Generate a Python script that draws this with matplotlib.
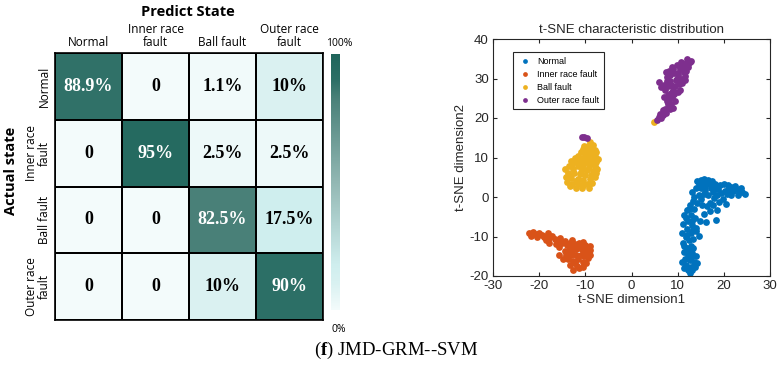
import numpy as np
import matplotlib
matplotlib.use('Agg')
import matplotlib.pyplot as plt
from matplotlib.colors import LinearSegmentedColormap

# confusion matrix (percent)
classes_cm = ['Normal', 'Inner race\nfault', 'Ball fault', 'Outer race\nfault']
cm = np.array([[88.9, 0, 1.1, 10],
               [0, 95, 2.5, 2.5],
               [0, 0, 82.5, 17.5],
               [0, 0, 10, 90]])
cm_text = [['88.9%', '0', '1.1%', '10%'],
           ['0', '95%', '2.5%', '2.5%'],
           ['0', '0', '82.5%', '17.5%'],
           ['0', '0', '10%', '90%']]

# t-SNE points
normal_x = [14.2, 15.0, 15.8, 16.6, 17.4, 14.6, 15.4, 16.2, 17.0, 18.0, 14.0, 15.0, 16.0, 17.2, 18.4,
            19.2, 20.0, 20.8, 21.6, 22.4, 23.2, 24.0, 24.6, 23.0, 22.0, 21.0, 20.2, 19.4, 18.6, 17.8,
            16.6, 15.6, 14.6, 13.6, 21.6, 19.0, 20.4,
            15.2, 16.4, 17.6, 18.6, 15.6, 17.0, 18.4, 16.2, 14.8,
            13.4, 12.6, 13.6, 12.0, 11.4, 12.8, 13.8, 12.2, 11.2, 13.0, 14.0, 12.0, 11.0, 12.8, 11.8,
            12.4, 11.2, 12.8, 12.0, 11.4, 12.2, 13.2, 14.0, 11.6, 12.6, 13.6, 11.8, 12.8, 12.2, 13.2,
            12.6, 14.2, 11.0, 14.0, 14.6,
            13.0, 14.2, 13.0, 11.8, 12.4, 13.4, 12.0, 13.4, 11.4, 12.6, 13.4, 12.8, 13.8, 11.4, 16.0,
            17.6, 18.8, 20.6, 22.6, 23.8, 15.0, 17.0, 19.8]
normal_y = [4.0, 4.4, 4.6, 4.4, 4.0, 3.2, 3.4, 3.6, 3.2, 3.4, 2.2, 2.4, 2.6, 2.2, 2.4,
            3.0, 3.4, 3.0, 2.6, 2.8, 1.8, 1.2, 0.8, 0.6, 1.6, 1.8, 1.6, 1.0, 0.6, -0.2,
            0.4, 0.8, 0.6, 0.0, 0.4, -1.2, -1.8,
            -2.0, -2.4, -2.0, -3.2, -4.4, -3.6, -5.8, -6.4, -6.0,
            -1.0, -2.0, -3.0, -3.4, -4.6, -4.6, -5.4, -6.0, -6.8, -7.2, -7.8, -8.0, -9.0, -9.2, -10.2,
            -11.0, -11.6, -12.4, -12.8, -14.0, -14.6, -14.2, -15.0, -15.6, -16.0, -16.4, -17.2, -17.6, -18.6, -18.4,
            -19.2, -16.8, -16.4, -8.6, -9.8,
            1.2, -1.6, -6.0, -5.4, -3.0, -8.4, -9.6, -10.6, -12.4, -13.6, -12.8, -15.2, -17.8, -18.0, 1.8,
            1.2, 2.0, 0.8, 2.0, 2.4, -0.6, -1.4, -0.4]

inner_x = [-22.2, -21.4, -20.8, -20.0, -19.4, -19.0, -18.4, -17.8, -17.2, -16.6, -16.0, -17.8, -15.4,
           -15.0, -14.4, -14.0, -13.4, -12.8, -12.2, -11.4, -10.6, -10.0, -9.4, -9.0, -9.6, -10.4, -11.2,
           -12.0, -12.8, -13.6, -14.4, -15.6, -13.0, -12.0, -11.0, -10.2, -9.4, -11.6, -12.6, -10.6,
           -13.4, -11.8, -10.4, -12.6, -11.4, -16.4, -18.6, -14.8, -9.0, -13.0, -11.0,
           -21.8, -20.4, -18.0, -15.8, -14.2, -13.8, -12.2, -9.8, -9.0, -10.8]
inner_y = [-9.2, -8.8, -9.4, -9.0, -9.6, -10.2, -9.8, -10.4, -9.8, -10.6, -11.0, -11.6, -10.4,
           -11.6, -11.2, -12.2, -11.6, -11.0, -11.8, -11.6, -11.4, -12.2, -12.8, -13.4, -14.0, -13.6, -13.0,
           -13.2, -13.6, -13.4, -13.6, -14.6, -14.6, -14.8, -14.6, -15.0, -15.4, -15.8, -16.2, -16.4,
           -17.2, -17.4, -17.6, -18.4, -18.0, -12.0, -11.0, -15.6, -14.6, -12.4, -12.6,
           -9.8, -10.0, -9.2, -12.6, -14.6, -15.8, -16.8, -16.6, -12.4, -13.0]

ball_x = [-9.0, -8.4, -9.5, -8.6, -9.2, -8.0, -10.0, -8.8, -7.8, -11.5, -12.2, -10.6, -9.4, -8.2,
          -11.0, -12.0, -9.8, -8.6, -7.6, -10.4, -11.6, -9.2, -8.0, -12.6, -10.8, -9.6, -8.4, -13.8,
          -12.4, -11.2, -10.0, -8.8, -7.6, -14.2, -13.0, -11.6, -10.4, -9.0, -8.0, -14.0, -12.8, -11.6,
          -10.6, -9.6, -8.6, -12.0, -10.8, -13.4, -9.2, -7.4, -7.2, -9.6, -12.8, -13.4, 4.8,
          -10.6, -11.0, -10.2, -9.4, -13.0, -14.4, -13.6, -12.0, -11.0, -9.0, -7.6]
ball_y = [13.8, 13.2, 12.8, 12.2, 11.6, 11.8, 11.0, 10.8, 10.5, 10.4, 10.0, 10.0, 9.8, 9.6,
          9.2, 8.8, 8.8, 8.6, 8.8, 8.0, 7.8, 7.6, 7.8, 7.2, 7.0, 6.8, 6.6, 6.2,
          6.0, 5.8, 5.6, 5.6, 6.2, 5.0, 4.8, 4.6, 4.4, 4.6, 5.0, 3.8, 3.4, 3.2,
          3.0, 3.2, 3.6, 2.4, 2.2, 2.8, 2.4, 7.2, 9.6, 12.0, 8.4, 5.6, 19.0,
          12.2, 11.4, 13.0, 10.6, 9.0, 7.0, 7.8, 4.0, 6.4, 9.2, 11.4]

outer_x = [5.6, 6.0, 6.4, 6.8, 6.2, 7.0, 7.5, 7.2, 7.8, 8.4, 9.0, 8.0, 7.6, 8.2, 8.8, 7.9, 8.5,
           9.3, 10.0, 10.6, 7.2, 6.4, 7.0, 7.9, 8.6, 9.4, 10.2, 11.0, 8.3, 9.6, 10.8, 11.5, 7.6,
           8.4, 9.2, 10.0, 7.4, 8.2, 9.0, 10.4, 11.2, 11.8, 12.3, 12.6, 11.9, 11.0, 10.1, 9.8,
           11.8, 12.2, 12.8, -10.2, -9.6, -10.8,
           6.8, 8.6, 9.4, 7.0, 9.0, 10.4, 11.6, 8.8, 9.8, 10.8, 12.0, 6.0, 7.6, 11.4]
outer_y = [19.6, 20.2, 20.0, 20.8, 21.0, 21.5, 21.2, 22.3, 22.6, 22.2, 22.6, 23.5, 24.2, 24.8, 25.3,
           25.8, 26.3, 26.0, 26.5, 27.0, 27.2, 27.8, 28.3, 28.0, 28.4, 28.0, 28.6, 28.9, 29.3, 29.5,
           30.0, 30.6, 30.4, 30.9, 31.3, 31.5, 31.6, 32.0, 32.5, 32.4, 32.6, 33.0, 33.6, 34.2, 34.0,
           33.4, 31.0, 30.0, 31.8, 32.8, 34.5, 15.2, 15.0, 15.1,
           22.0, 23.6, 24.4, 25.2, 27.0, 29.2, 29.6, 33.0, 33.4, 34.2, 35.0, 29.0, 29.4, 31.6]

labels = ['Normal', 'Inner race fault', 'Ball fault', 'Outer race fault']
colors = ['#0072BD', '#D95319', '#EDB120', '#7E2F8E']

plt.rcParams['mathtext.fontset'] = 'custom'
plt.rcParams['mathtext.bf'] = 'Liberation Serif:bold'
plt.rcParams['mathtext.rm'] = 'Liberation Serif'
plt.rcParams['axes.unicode_minus'] = False

fig = plt.figure(figsize=(7.8, 3.67), dpi=100)

cmap = LinearSegmentedColormap.from_list('teal', [
    (0.0, '#f3fbfb'), (0.1, '#d9f1f1'), (0.175, '#cfeeee'), (0.5, '#92b7b3'),
    (0.825, '#4a8179'), (0.9, '#2c6f66'), (1.0, '#1f655b')])

# --- confusion matrix ---
ax1 = fig.add_axes([55 / 780, 1 - 320 / 367, 268 / 780, 267 / 367])
mesh = ax1.pcolormesh(cm, cmap=cmap, vmin=0, vmax=100, edgecolors='black', linewidth=1.2)
ax1.set_xlim(0, 4)
ax1.set_ylim(4, 0)
for i in range(4):
    for j in range(4):
        ax1.text(j + 0.5, i + 0.5, cm_text[i][j], ha='center', va='center',
                 fontsize=13, fontweight='bold', family='Liberation Serif',
                 color='white' if cm[i, j] > 50 else 'black')
ax1.xaxis.tick_top()
ax1.set_xticks(np.arange(4) + 0.5)
ax1.set_xticklabels(classes_cm, fontsize=8.5, family='Open Sans', linespacing=1.0)
ax1.set_yticks(np.arange(4) + 0.5)
ax1.set_yticklabels(classes_cm, fontsize=8.5, family='Open Sans', rotation=90, va='center',
                    linespacing=1.0, multialignment='center')
ax1.tick_params(length=0, pad=3)
for s in ax1.spines.values():
    s.set_linewidth(1.2)
fig.text(188 / 780, 1 - 12 / 367, 'Predict State', ha='center', va='center',
         fontsize=10.5, fontweight='bold', family='Open Sans')
fig.text(11 / 780, 1 - 171 / 367, 'Actual state', ha='center', va='center', rotation=90,
         fontsize=10.5, fontweight='bold', family='Open Sans')

# colorbar
cax = fig.add_axes([331 / 780, 1 - 310 / 367, 9 / 780, 256 / 367])
cb = fig.colorbar(mesh, cax=cax)
cb.outline.set_visible(False)
cb.set_ticks([])
fig.text(339 / 780, 1 - 43 / 367, '100%', ha='center', va='center', fontsize=7.5, family='Open Sans')
fig.text(339 / 780, 1 - 330 / 367, '0%', ha='center', va='center', fontsize=7.5, family='Open Sans')

# --- t-SNE scatter ---
ax2 = fig.add_axes([493 / 780, 1 - 276 / 367, 277 / 780, 237 / 367])
xs = [normal_x, inner_x, ball_x, outer_x]
ys = [normal_y, inner_y, ball_y, outer_y]
for x, y, c, lab in zip(xs, ys, colors, labels):
    ax2.scatter(x, y, s=24, color=c, label=lab, linewidths=0)
ax2.set_xlim(-30, 30)
ax2.set_ylim(-20, 40)
ax2.set_xticks(np.arange(-30, 31, 10))
ax2.set_yticks(np.arange(-20, 41, 10))
gray = '#262626'
ax2.tick_params(direction='in', length=3, top=True, right=True, labelsize=9.5,
                colors=gray, labelcolor=gray, pad=3)
for lab in ax2.get_xticklabels() + ax2.get_yticklabels():
    lab.set_family('Liberation Sans')
for s in ax2.spines.values():
    s.set_color(gray)
    s.set_linewidth(0.8)
ax2.set_title('t-SNE characteristic distribution', fontsize=9.5, family='Liberation Sans',
              color=gray, pad=4)
ax2.set_xlabel('t-SNE dimension1', fontsize=9.5, family='Liberation Sans', color=gray, labelpad=1)
ax2.set_ylabel('t-SNE dimension2', fontsize=9.5, family='Liberation Sans', color=gray, labelpad=2)
leg = ax2.legend(loc='upper left', bbox_to_anchor=(0.072, 0.945), borderaxespad=0,
                 fancybox=False, framealpha=1, edgecolor=gray,
                 prop={'family': 'Liberation Sans', 'size': 6.5}, handletextpad=0.6,
                 borderpad=0.5, labelspacing=0.45, markerscale=0.7, handlelength=1.6)
leg.get_frame().set_linewidth(0.8)

fig.text(396 / 780, 1 - 350 / 367, r'($\mathbf{f}$) JMD-GRM--SVM', ha='center', va='center',
         fontsize=13.5, family='Liberation Serif')

fig.savefig('out.png', dpi=100)
